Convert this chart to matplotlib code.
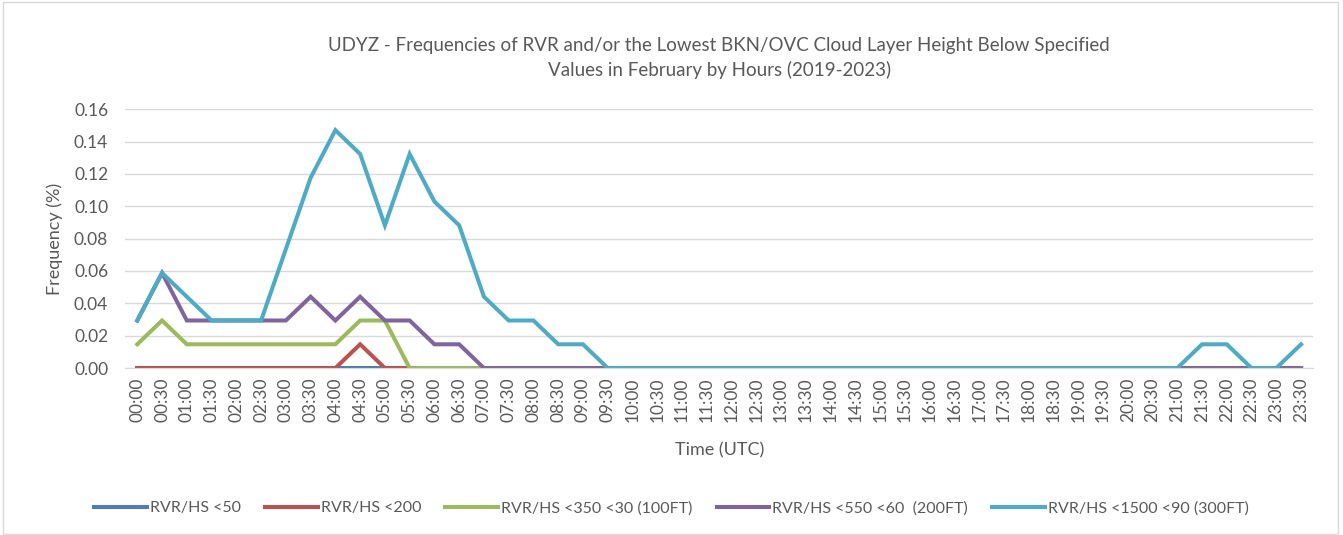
import matplotlib.pyplot as plt
from matplotlib.patches import Rectangle

plt.rcParams['font.family'] = ['Lato', 'DejaVu Sans']

# time labels 00:00 .. 23:30
times = ['%02d:%02d' % (h, m) for h in range(24) for m in (0, 30)]

u = 0.0147  # one occurrence
rvr50 = [0] * 48
rvr200 = [0] * 48
rvr200[9] = 1 * u
rvr350 = [1, 2, 1, 1, 1, 1, 1, 1, 1, 2, 2] + [0] * 37
rvr550 = [2, 4, 2, 2, 2, 2, 2, 3, 2, 3, 2, 2, 1, 1] + [0] * 34
rvr1500 = [2, 4, 3, 2, 2, 2, 5, 8, 10, 9, 6, 9, 7, 6, 3, 2, 2, 1, 1] + [0] * 24 + [1, 1, 0, 0, 1]
rvr350 = [v * u for v in rvr350]
rvr550 = [v * u for v in rvr550]
rvr1500 = [v * u for v in rvr1500]

series = [
    ('RVR/HS <50', rvr50, '#4A7EBB'),
    ('RVR/HS <200', rvr200, '#C0504D'),
    ('RVR/HS <350 <30 (100FT)', rvr350, '#9BBB59'),
    ('RVR/HS <550 <60  (200FT)', rvr550, '#8064A2'),
    ('RVR/HS <1500 <90 (300FT)', rvr1500, '#4BACC6'),
]

fig = plt.figure(figsize=(13.43, 5.35), dpi=100)
ax = fig.add_axes([0.093, 0.312, 0.885, 0.484])

x = list(range(len(times)))
for name, vals, col in series:
    ax.plot(x, vals, color=col, lw=2.9, label=name, solid_joinstyle='miter')

ax.set_xlim(-0.5, 47.5)
ax.set_ylim(0, 0.16)
ax.set_yticks([i * 0.02 for i in range(9)])
ax.set_yticklabels(['%.2f' % (i * 0.02) for i in range(9)])
ax.set_xticks(x)
ax.set_xticklabels(times, rotation=90)
ax.tick_params(axis='both', colors='#595959', labelsize=12.5, length=0)
ax.tick_params(axis='x', pad=7)
ax.tick_params(axis='y', pad=12)
ax.grid(axis='y', color='#D9D9D9', lw=1)
ax.set_axisbelow(True)
for s in ['top', 'right', 'left']:
    ax.spines[s].set_visible(False)
ax.spines['bottom'].set_color('#D9D9D9')

ax.set_ylabel('Frequency (%)', color='#595959', fontsize=13, labelpad=8)
ax.set_xlabel('Time (UTC)', color='#595959', fontsize=13, labelpad=14)
ax.set_title('UDYZ - Frequencies of RVR and/or the Lowest BKN/OVC Cloud Layer Height Below Specified\nValues in February by Hours (2019-2023)',
             color='#595959', fontsize=13.5, pad=24, linespacing=1.45)

fig.legend(loc='center', bbox_to_anchor=(0.5, 0.05), ncol=5, frameon=False,
           fontsize=11.5, labelcolor='#595959', handlelength=3.3, columnspacing=1.5, handletextpad=0.2)

fig.patches.append(Rectangle((0.002, 0.002), 0.994, 0.994, transform=fig.transFigure,
                             fill=False, edgecolor='#D9D9D9', lw=1))

fig.savefig('out.png', dpi=100)
